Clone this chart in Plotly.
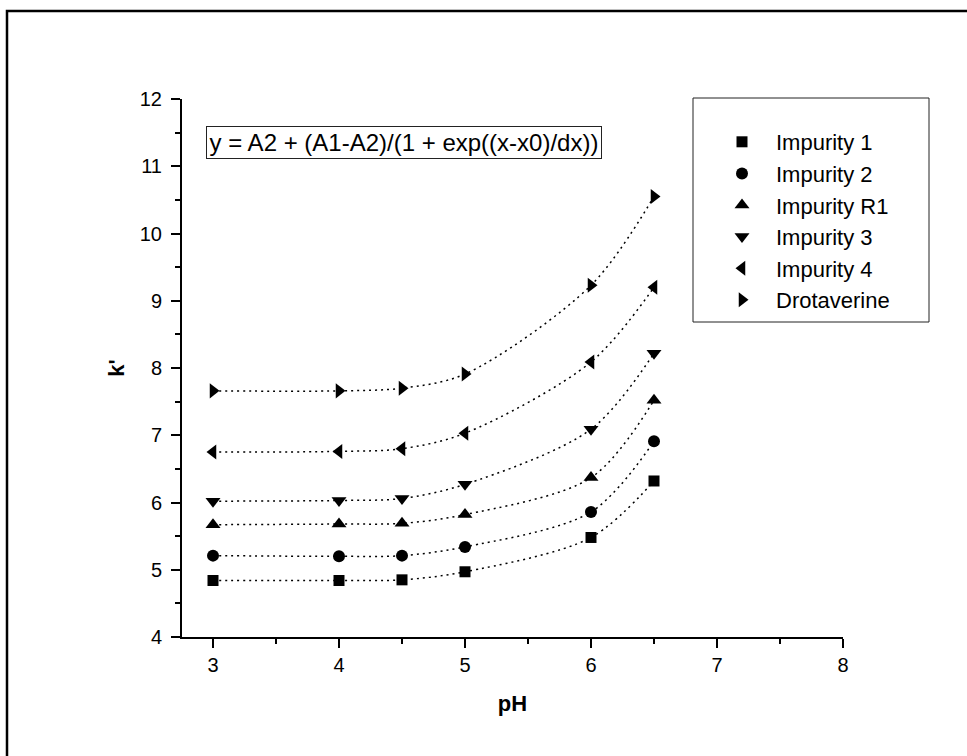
import plotly.graph_objects as go

W, H = 967, 756

# ---- data ----
ph = [3, 4, 4.5, 5, 6, 6.5]
impurity_1 = [4.84, 4.84, 4.85, 4.97, 5.48, 6.32]
impurity_2 = [5.21, 5.20, 5.21, 5.34, 5.86, 6.91]
impurity_r1 = [5.67, 5.68, 5.69, 5.82, 6.37, 7.52]
impurity_3 = [6.02, 6.03, 6.06, 6.27, 7.09, 8.22]
impurity_4 = [6.75, 6.76, 6.80, 7.03, 8.09, 9.20]
drotaverine = [7.66, 7.66, 7.70, 7.91, 9.23, 10.55]

names = ["Impurity 1", "Impurity 2", "Impurity R1", "Impurity 3", "Impurity 4", "Drotaverine"]
series = [impurity_1, impurity_2, impurity_r1, impurity_3, impurity_4, drotaverine]
symbols = ["square", "circle", "triangle-up", "triangle-down", "triangle-left", "triangle-right"]
sizes = [11, 12, 13, 13, 13, 13]

x_ticks = [3, 4, 5, 6, 7, 8]
y_ticks = [4, 5, 6, 7, 8, 9, 10, 11, 12]
equation = "y = A2 + (A1-A2)/(1 + exp((x-x0)/dx))"

FONT = "Liberation Sans, Arial, sans-serif"


def px(x):
    return x / W


def py(y):
    return 1 - y / H


fig = go.Figure()

# fitted (smooth) dotted curves
for name, ys in zip(names, series):
    fig.add_trace(go.Scatter(
        x=ph, y=ys, mode="lines", showlegend=False, hoverinfo="skip",
        line=dict(color="black", width=1.5, dash="2px,4px", shape="spline", smoothing=0.9),
    ))

# markers
for name, ys, sym, sz in zip(names, series, symbols, sizes):
    fig.add_trace(go.Scatter(
        x=ph, y=ys, mode="markers", name=name,
        marker=dict(symbol=sym, size=sz, color="black", line=dict(width=0)),
    ))

fig.update_layout(
    width=W, height=H, autosize=False,
    margin=dict(l=0, r=0, t=0, b=0),
    paper_bgcolor="white", plot_bgcolor="white",
    font=dict(family=FONT, color="black", size=20),
    showlegend=True,
    legend=dict(
        x=px(708), y=py(121), xanchor="left", yanchor="top",
        bgcolor="rgba(0,0,0,0)", borderwidth=0,
        font=dict(family=FONT, size=22, color="black"),
        itemwidth=58,
    ),
    xaxis=dict(
        domain=[px(182), px(843)], range=[2.754, 8],
        tickmode="array", tickvals=x_ticks, ticktext=[str(v) for v in x_ticks],
        ticks="outside", ticklen=9, tickwidth=2, tickcolor="black",
        showline=True, linewidth=2, linecolor="black", mirror=False,
        showgrid=False, zeroline=False,
        tickfont=dict(family=FONT, size=20),
        minor=dict(dtick=0.5, tick0=3, ticks="outside", ticklen=5, tickwidth=2, tickcolor="black", showgrid=False),
        title=dict(text="<b>pH</b>", font=dict(family=FONT, size=22), standoff=21),
        automargin=False,
    ),
    yaxis=dict(
        domain=[py(637), py(99)], range=[4, 12],
        tickmode="array", tickvals=y_ticks, ticktext=[str(v) for v in y_ticks],
        ticks="outside", ticklen=9, tickwidth=2, tickcolor="black",
        showline=True, linewidth=2, linecolor="black", mirror=False,
        showgrid=False, zeroline=False,
        tickfont=dict(family=FONT, size=20),
        ticklabelstandoff=5,
        minor=dict(dtick=0.5, tick0=4, ticks="outside", ticklen=5, tickwidth=2, tickcolor="black", showgrid=False),
        title=dict(text="<b>k'</b>", font=dict(family=FONT, size=22), standoff=9),
        automargin=False,
    ),
    shapes=[
        # outer frame (only top/left visible in the picture)
        dict(type="rect", xref="paper", yref="paper",
             x0=px(7), x1=px(1000), y0=py(790), y1=py(11),
             line=dict(color="black", width=2.5), layer="below"),
        # legend box
        dict(type="rect", xref="paper", yref="paper",
             x0=px(693), x1=px(929), y0=py(322), y1=py(98),
             line=dict(color="#222", width=1), layer="above"),
    ],
    annotations=[
        dict(text=equation, xref="paper", yref="paper",
             x=px(206), y=py(126), xanchor="left", yanchor="top",
             showarrow=False, align="center",
             font=dict(family=FONT, size=24, color="black"),
             bordercolor="#222", borderwidth=1, borderpad=0,
             width=394, height=31, bgcolor="white"),
    ],
)

fig.write_html("out.html")
